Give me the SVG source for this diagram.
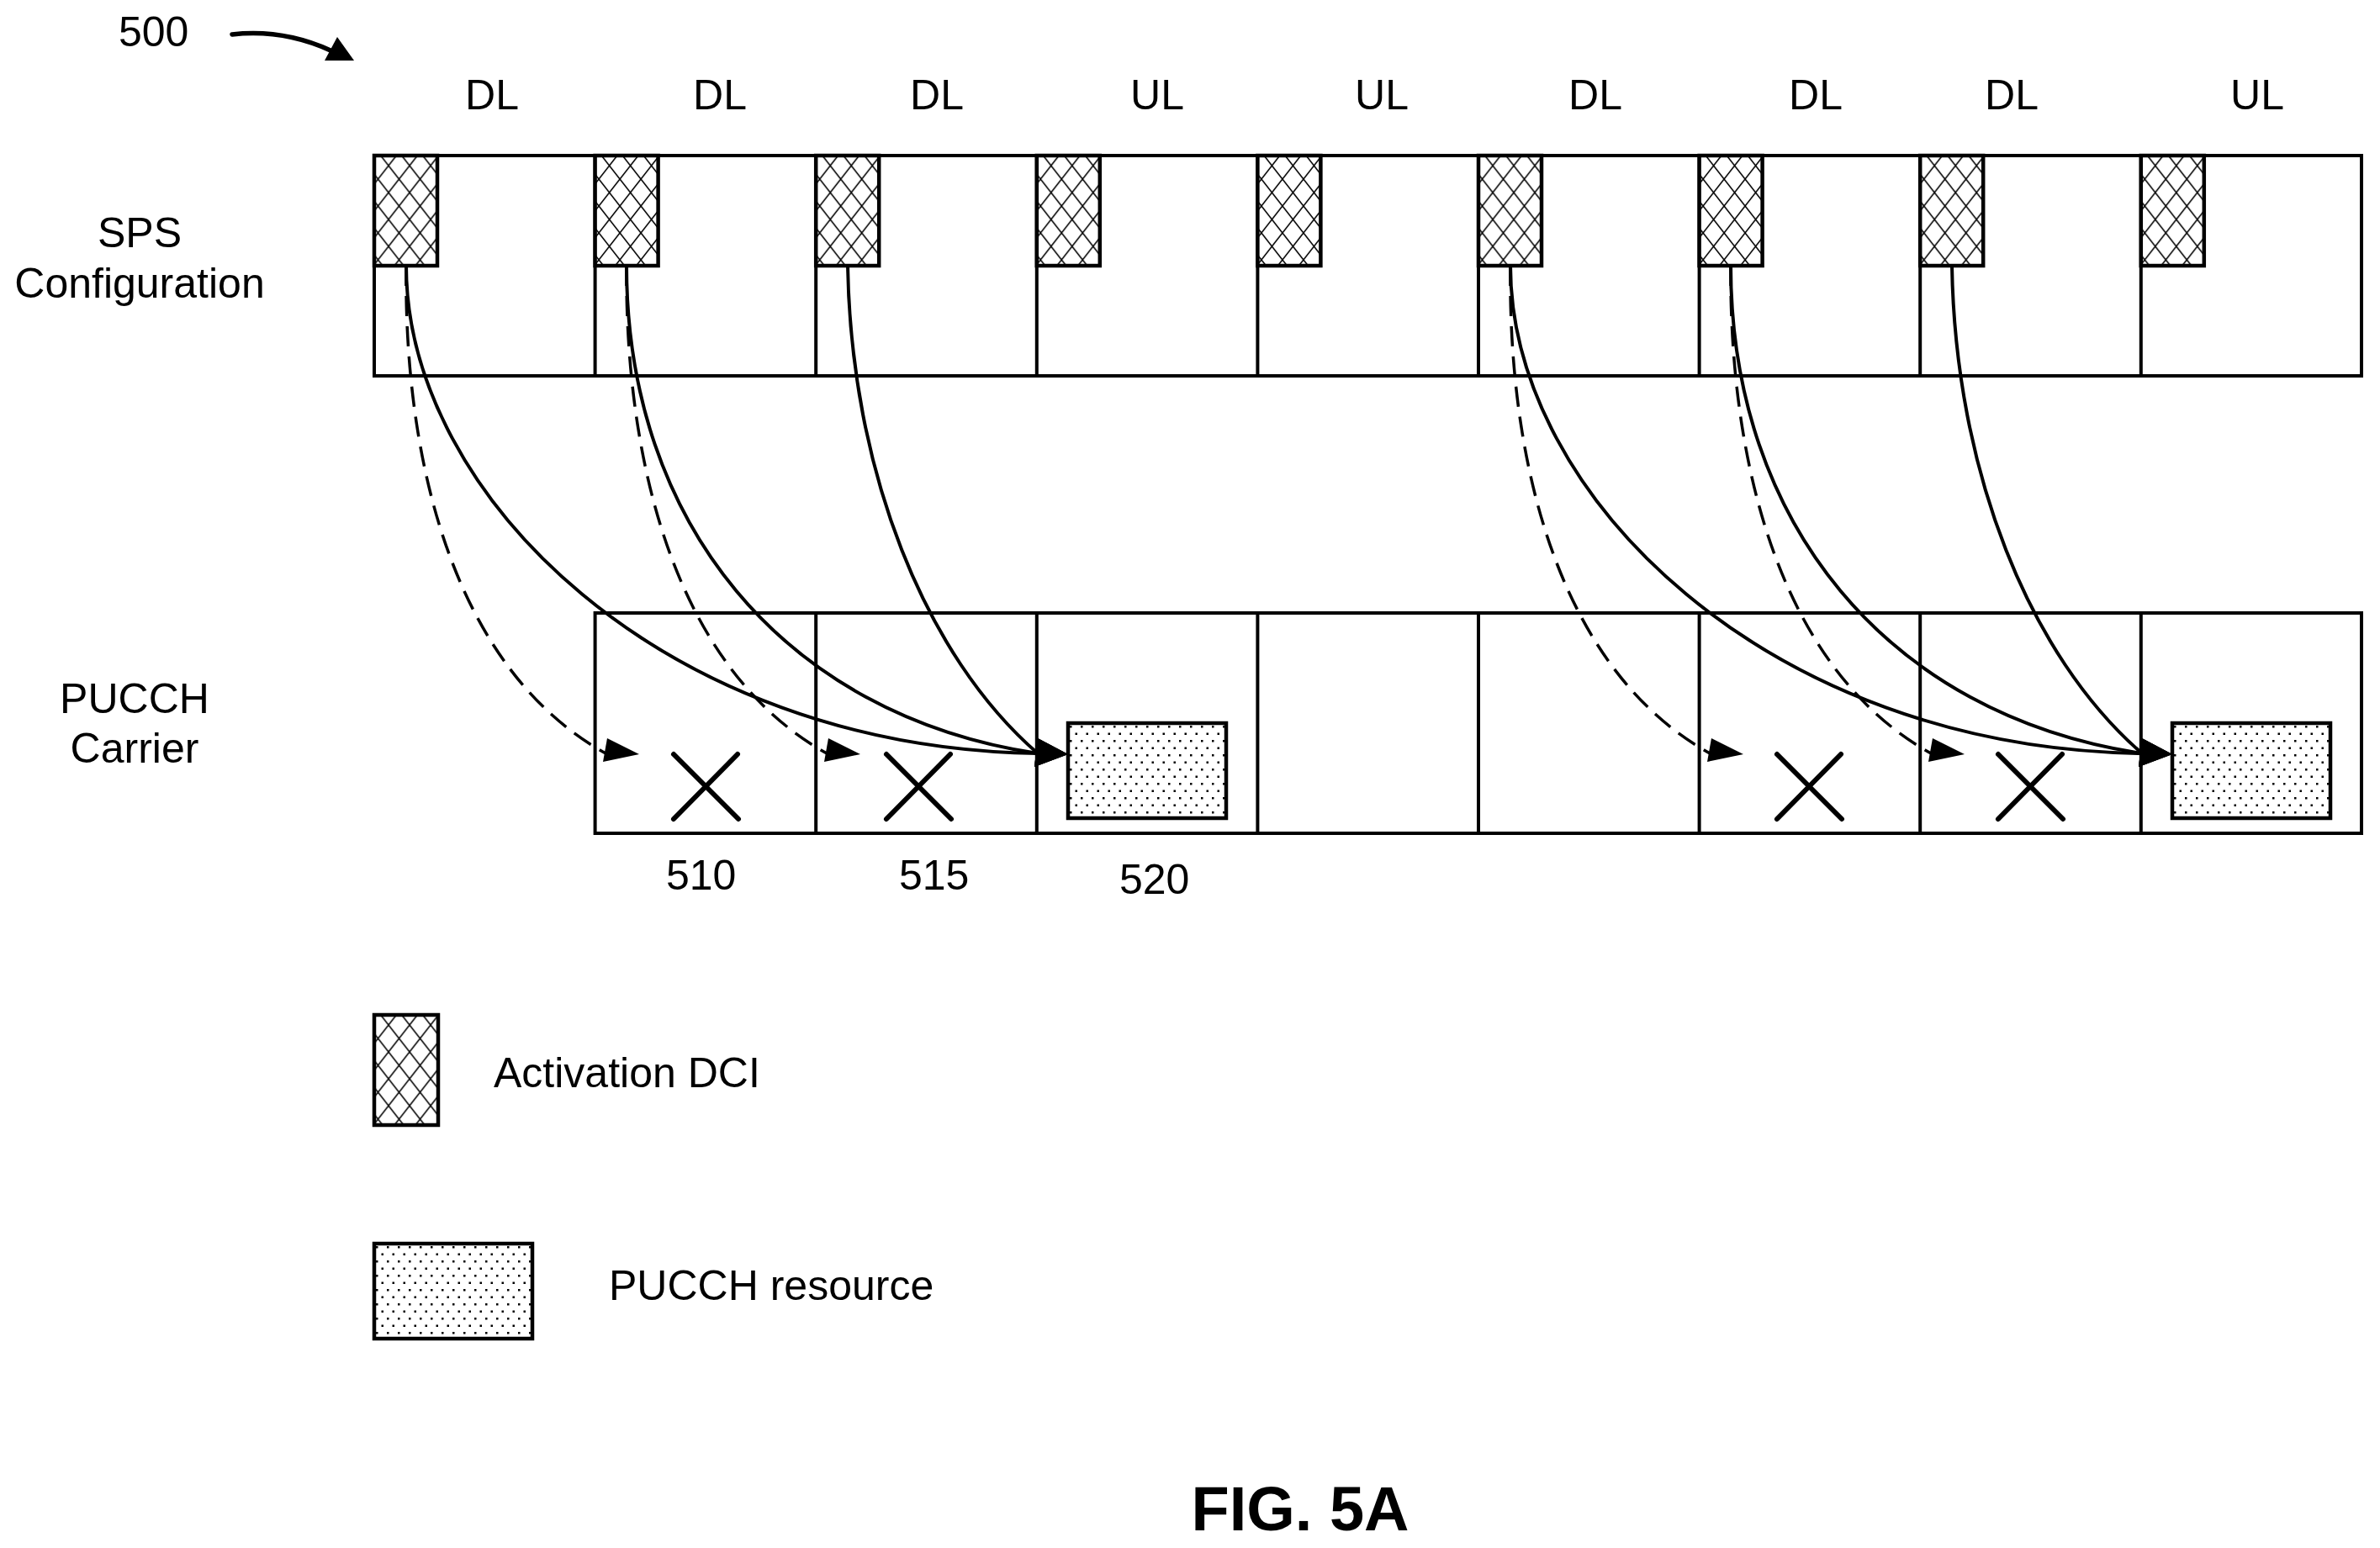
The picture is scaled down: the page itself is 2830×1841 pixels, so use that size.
<svg xmlns="http://www.w3.org/2000/svg" width="2830" height="1841" viewBox="0 0 2830 1841">
<style>
text{font-family:"Liberation Sans",Arial,sans-serif;font-size:50px;fill:#000}
.m{text-anchor:middle}
.cell{fill:none;stroke:#000;stroke-width:4}
.hatch{fill:url(#hatch);stroke:#000;stroke-width:4.5}
.dots{fill:url(#dots);stroke:#000;stroke-width:4.5}
.solid{fill:none;stroke:#000;stroke-width:4;marker-end:url(#headSolid)}
.dash{fill:none;stroke:#000;stroke-width:3.5;stroke-dasharray:24 12;marker-end:url(#headDash)}
.x{stroke:#000;stroke-width:6;stroke-linecap:round;fill:none}
</style>
<defs>
<pattern id="hatch" patternUnits="userSpaceOnUse" x="4.5" y="-4" width="25" height="32">
<rect width="25" height="32" fill="#fff"/>
<path d="M0 0L25 32M25 0L0 32" stroke="#000" stroke-width="1.6" fill="none"/>
</pattern>
<pattern id="dots" patternUnits="userSpaceOnUse" width="13" height="17">
<rect width="13" height="17" fill="#fff"/>
<rect x="2" y="3" width="2.5" height="2.5" fill="#000"/>
<rect x="8.5" y="11.5" width="2.5" height="2.5" fill="#000"/>
</pattern>
<marker id="headSolid" markerUnits="userSpaceOnUse" viewBox="0 0 44 36" markerWidth="44" markerHeight="36" refX="4" refY="18" orient="0"><polygon points="4,0 40,19 0,34" fill="#000"/></marker>
<marker id="headDash" markerUnits="userSpaceOnUse" viewBox="0 0 44 30" markerWidth="44" markerHeight="30" refX="5" refY="19" orient="0"><polygon points="5,0 43,19 0,28" fill="#000"/></marker>
<marker id="headRef" markerUnits="userSpaceOnUse" viewBox="0 0 36 30" markerWidth="36" markerHeight="30" refX="7" refY="16" orient="0"><polygon points="15,0 35,28 0,28" fill="#000"/></marker>
</defs>
<rect width="2830" height="1841" fill="#fff"/>

<g id="ref-500"><text x="141" y="55">500</text></g>

<g id="slot-labels">
<text class="m" x="585" y="130">DL</text>
<text class="m" x="856" y="130">DL</text>
<text class="m" x="1114" y="130">DL</text>
<text class="m" x="1376" y="130">UL</text>
<text class="m" x="1643" y="130">UL</text>
<text class="m" x="1897" y="130">DL</text>
<text class="m" x="2159" y="130">DL</text>
<text class="m" x="2392" y="130">DL</text>
<text class="m" x="2684" y="130">UL</text>
</g>

<g id="row-labels">
<text class="m" x="166" y="294">SPS</text>
<text class="m" x="166" y="354">Configuration</text>
<text class="m" x="160" y="848">PUCCH</text>
<text class="m" x="160" y="907">Carrier</text>
</g>

<g id="sps-row">
<rect class="cell" x="445" y="185" width="2363" height="262"/>
<path class="cell" d="M707.6 185V447M970.2 185V447M1232.8 185V447M1495.4 185V447M1758 185V447M2020.6 185V447M2283.2 185V447M2545.8 185V447"/>
</g>
<g id="dci-1" transform="translate(445,185)"><rect class="hatch" width="75" height="131"/></g>
<g id="dci-2" transform="translate(707.6,185)"><rect class="hatch" width="75" height="131"/></g>
<g id="dci-3" transform="translate(970.2,185)"><rect class="hatch" width="75" height="131"/></g>
<g id="dci-4" transform="translate(1232.8,185)"><rect class="hatch" width="75" height="131"/></g>
<g id="dci-5" transform="translate(1495.4,185)"><rect class="hatch" width="75" height="131"/></g>
<g id="dci-6" transform="translate(1758,185)"><rect class="hatch" width="75" height="131"/></g>
<g id="dci-7" transform="translate(2020.6,185)"><rect class="hatch" width="75" height="131"/></g>
<g id="dci-8" transform="translate(2283.2,185)"><rect class="hatch" width="75" height="131"/></g>
<g id="dci-9" transform="translate(2545.8,185)"><rect class="hatch" width="75" height="131"/></g>

<g id="pucch-row">
<rect class="cell" x="707.6" y="729" width="2100.4" height="262"/>
<path class="cell" d="M970.2 729V991M1232.8 729V991M1495.4 729V991M1758 729V991M2020.6 729V991M2283.2 729V991M2545.8 729V991"/>
</g>
<g id="pucch-res-1" transform="translate(1270,860)"><rect class="dots" width="188" height="113"/></g>
<g id="pucch-res-2" transform="translate(2583,860)"><rect class="dots" width="188" height="113"/></g>

<g id="drop-510"><path class="x" d="M801 897L878 974M877 897L801 974"/></g>
<g id="drop-515"><path class="x" d="M1054 897L1131 974M1130 897L1054 974"/></g>
<g id="drop-3"><path class="x" d="M2113 897L2190 974M2189 897L2113 974"/></g>
<g id="drop-4"><path class="x" d="M2376 897L2453 974M2452 897L2376 974"/></g>

<g id="connectors">
<path d="M276 41C320 36 360 45 393 60" fill="none" stroke="#000" stroke-width="5.5" stroke-linecap="round" marker-end="url(#headRef)"/>
<path class="dash" d="M483 316C480 560 545 800 722 897"/>
<path class="dash" d="M745 316C743 560 808 800 985 897"/>
<path class="solid" d="M483 316C483 590 790 890 1234 896"/>
<path class="solid" d="M745 316C745 620 930 850 1234 896"/>
<path class="solid" d="M1008 316C1012 560 1100 780 1234 896"/>
<path class="dash" d="M1796 316C1793 560 1858 800 2035 897"/>
<path class="dash" d="M2058 316C2056 560 2121 800 2298 897"/>
<path class="solid" d="M1796 316C1796 590 2103 890 2547 896"/>
<path class="solid" d="M2058 316C2058 620 2243 850 2547 896"/>
<path class="solid" d="M2321 316C2325 560 2413 780 2547 896"/>
</g>

<g id="callouts">
<text x="792" y="1058">510</text>
<text x="1069" y="1058">515</text>
<text x="1331" y="1063">520</text>
</g>

<g id="legend-dci" transform="translate(445,1207)"><rect class="hatch" width="76" height="131"/></g>
<g id="legend-dci-label"><text x="587" y="1293">Activation DCI</text></g>
<g id="legend-pucch" transform="translate(445,1479)"><rect class="dots" width="188" height="113"/></g>
<g id="legend-pucch-label"><text x="724" y="1546">PUCCH resource</text></g>

<g id="figure-title"><text class="m" x="1546" y="1820" style="font-size:74px;font-weight:bold">FIG. 5A</text></g>
</svg>
